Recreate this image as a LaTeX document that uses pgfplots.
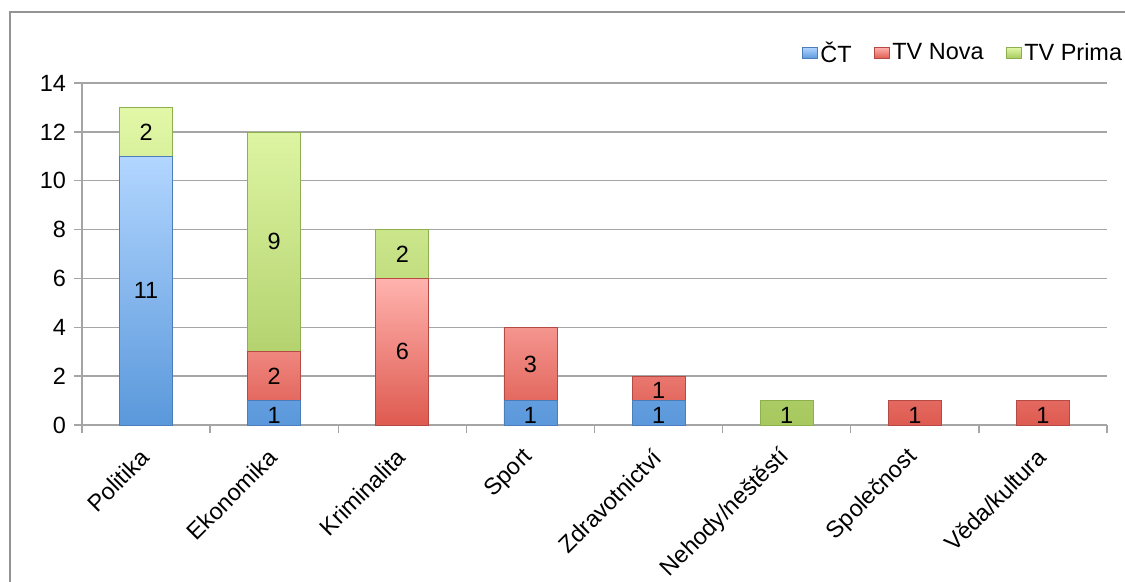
\documentclass[border=0pt]{standalone}
\usepackage{pgfplots}
\pgfplotsset{compat=1.18}
\usepackage{pgfplotstable}
\usepackage{fontspec}
\setmainfont{Liberation Sans}
\definecolor{ctTop}{HTML}{B2D6FF}
\definecolor{ctBot}{HTML}{5A98DB}
\definecolor{ctEdge}{HTML}{4C7DBA}
\definecolor{nvTop}{HTML}{FFB3AE}
\definecolor{nvBot}{HTML}{DE5A50}
\definecolor{nvEdge}{HTML}{B54A45}
\definecolor{prTop}{HTML}{E2F8A8}
\definecolor{prBot}{HTML}{A6C85E}
\definecolor{prEdge}{HTML}{8DAF4E}
\definecolor{gridc}{HTML}{A5A5A5}
\pgfplotstableread{
x ct nova prima
0 11 0 2
1 1 2 9
2 0 6 2
3 1 3 0
4 1 1 0
5 0 0 1
6 0 1 0
7 0 1 0
}\data
\newcommand{\lblfont}{\fontsize{17.6}{20}\selectfont}
\begin{document}
\begin{tikzpicture}
\begin{axis}[
  scale only axis,
  width=768.75pt, height=256.5pt,
  ybar stacked, bar width=39.75pt,
  xmin=-0.5, xmax=7.5, ymin=0, ymax=14,
  ytick={0,2,...,14},
  xtick={-0.5,0.5,...,7.5}, xticklabels={},
  extra x ticks={0,...,7},
  extra x tick labels={Politika,Ekonomika,Kriminalita,Sport,Zdravotnictví,Nehody/neštěstí,Společnost,Věda/kultura},
  extra x tick style={major tick length=0pt, tick label style={xshift=1.5pt, yshift=-19pt, rotate=45, anchor=east, font=\lblfont}},
  axis x line*=bottom, axis y line*=left,
  axis line style={gridc, line width=1.1pt},
  tick style={gridc, line width=1.1pt},
  tick align=outside, major tick length=6pt,
  ymajorgrids, grid style={gridc, line width=1.1pt},
  /pgf/number format/assume math mode=true,
  ticklabel style={font=\lblfont},
  yticklabel style={xshift=-2.5pt},
  legend columns=3,
  legend style={draw=none, fill=none, at={(1.0215,1.088)}, anchor=east, font=\lblfont,
    /tikz/every even column/.append style={column sep=15pt}},
  legend image code/.code={\draw[#1] (0pt,-4.25pt) rectangle (11pt,4.25pt);},
]
\addplot[draw=ctEdge, top color=ctTop, bottom color=ctBot, line width=0.5pt]
  table[x=x, y=ct]{\data};
\addplot[draw=nvEdge, top color=nvTop, bottom color=nvBot, line width=0.5pt]
  table[x=x, y=nova]{\data};
\addplot[draw=prEdge, top color=prTop, bottom color=prBot, line width=0.5pt]
  table[x=x, y=prima]{\data};
\legend{ČT,TV Nova,TV Prima}
\end{axis}
\begin{axis}[
  scale only axis,
  width=768.75pt, height=256.5pt,
  xmin=-0.5, xmax=7.5, ymin=0, ymax=14,
  hide axis,
]
\addplot[only marks, mark=none, point meta=explicit symbolic, nodes near coords,
  every node near coord/.style={anchor=center, font=\lblfont, text=black}]
  coordinates {
  (0,5.5)[11] (0,12)[2]
  (1,0.4)[1] (1,2)[2] (1,7.5)[9]
  (2,3)[6] (2,7)[2]
  (3,0.4)[1] (3,2.5)[3]
  (4,0.4)[1] (4,1.4)[1]
  (5,0.4)[1] (6,0.4)[1] (7,0.4)[1]
  };
\end{axis}
\draw[gridc!90!black, line width=1.1pt] (-54pt,-200pt) -- (-54pt,309.75pt) -- (900pt,309.75pt);
\pgfresetboundingbox
\path (-61.5pt,-117.75pt) rectangle (782.25pt,318.75pt);
\end{tikzpicture}
\end{document}
